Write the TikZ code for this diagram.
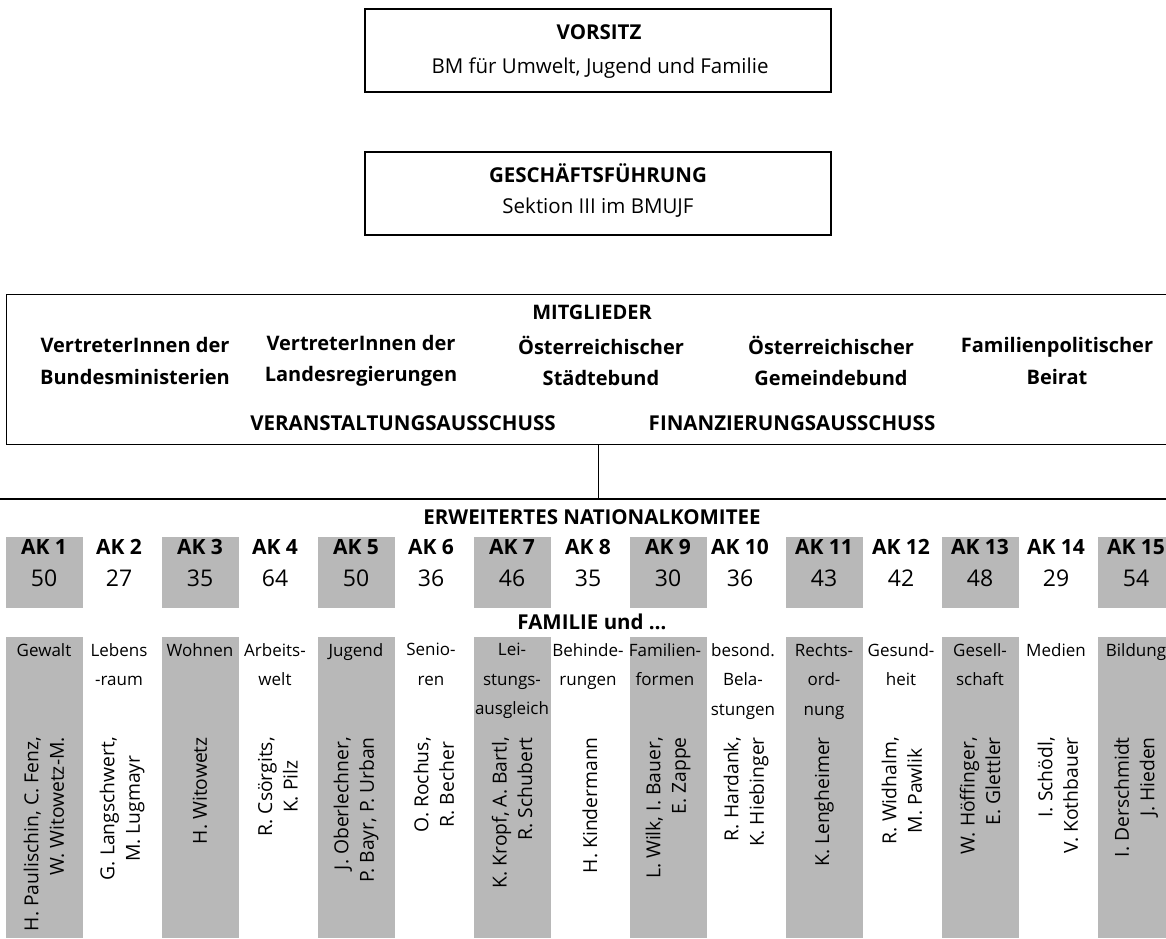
\documentclass[tikz,border=0pt]{standalone}
\usepackage{fontspec}
\setmainfont{Open Sans}
\newcommand\myfs[2]{\fontsize{#1}{#2}\selectfont}
\begin{document}
\begin{tikzpicture}[x=1pt,y=-1pt,
  frame/.style={draw, line width=1.3pt, inner sep=0pt},
  shadebox/.style={fill=black!28, draw=none, inner sep=0pt},
  txt/.style={inner sep=0pt, font=\myfs{20.5}{24}},
  btxt/.style={inner sep=0pt, font=\myfs{20}{31.5}\bfseries, align=center},
  aktxt/.style={inner sep=0pt, font=\myfs{21}{24}\bfseries},
  numtxt/.style={inner sep=0pt, font=\myfs{23}{24}},
  toptxt/.style={inner sep=0pt, font=\myfs{17}{29.5}, align=center, anchor=north},
  nametxt/.style={inner sep=0pt, font=\myfs{19.3}{25.5}, rotate=90, anchor=east}]
\useasboundingbox (0,0) rectangle (1166,938);
% top boxes
\node[frame, minimum width=466pt, minimum height=83pt] (vorsitzbox) at (598,50.5) {};
\node[txt, font=\myfs{20.5}{24}\bfseries] (vorsitz) at (599,32) {VORSITZ};
\node[txt] (bm) at (600,68) {BM für Umwelt, Jugend und Familie};
\node[frame, minimum width=466pt, minimum height=83pt] (gfbox) at (598,193.5) {};
\node[txt, font=\myfs{20.5}{24}\bfseries] (gf) at (598,173) {GESCHÄFTSFÜHRUNG};
\node[txt] (sek) at (598,208) {Sektion III im BMUJF};
% members box
\node[frame, minimum width=1166pt, minimum height=150pt, anchor=north west] (mitgbox) at (6,294) {};
\node[btxt] (mitg) at (592,312) {MITGLIEDER};
\node[btxt] (m1) at (135,361) {VertreterInnen der\\Bundesministerien};
\node[btxt] (m2) at (361,361) {VertreterInnen der\\Landesregierungen};
\node[btxt] (m3) at (601,361) {Österreichischer\\Städtebund};
\node[btxt] (m4) at (831,361) {Österreichischer\\Gemeindebund};
\node[btxt] (m5) at (1057,361) {Familienpolitischer\\Beirat};
\node[btxt, font=\myfs{20.5}{24}\bfseries] (va) at (403,423) {VERANSTALTUNGSAUSSCHUSS};
\node[btxt, font=\myfs{20.5}{24}\bfseries] (fa) at (792,423) {FINANZIERUNGSAUSSCHUSS};
% connector to erweitertes nationalkomitee
\coordinate (ekl) at (0,499);
\coordinate (ekr) at (1166,499);
\coordinate (ekc) at (598,499);
\draw[line width=1.5pt] (ekl) -- (ekr);
\draw[line width=1pt] (mitgbox.south -| ekc) -- (ekc);
\node[btxt, font=\myfs{20.5}{24}\bfseries] (ek) at (592,517) {ERWEITERTES NATIONALKOMITEE};
\node[btxt, font=\myfs{20.5}{24}\bfseries] (fam) at (592,622) {FAMILIE und \dots};
% columns
\foreach \i/\dx/\tx/\num/\topic/\nm/\al in {
  1/0/0/50/{Gewalt}/{H. Paulischin, C. Fenz,\\W. Witowetz-M.}/right,
  2/-3/-3/27/{Lebens\\-raum}/{G. Langschwert,\\M. Lugmayr}/center,
  3/0/0/35/{Wohnen}/{H. Witowetz}/right,
  4/-3/-3/64/{Arbeits-\\welt}/{R. Csörgits,\\K. Pilz}/center,
  5/0/0/50/{Jugend}/{J. Oberlechner,\\P. Bayr, P. Urban}/right,
  6/-3/-3/36/{Senio-\\ren}/{O. Rochus,\\R. Becher}/center,
  7/0/0/46/{Lei-\\stungs-\\ausgleich}/{K. Kropf, A. Bartl,\\R. Schubert}/right,
  8/-2/-2/35/{Behinde-\\rungen}/{H. Kindermann}/right,
  9/0/-3/30/{Familien-\\formen}/{L. Wilk, I. Bauer,\\E. Zappe}/right,
  10/-6/-3/36/{besond.\\Bela-\\stungen}/{R. Hardank,\\K. Hiebinger}/right,
  11/0/0/43/{Rechts-\\ord-\\nung}/{K. Lengheimer}/right,
  12/-1/-1/42/{Gesund-\\heit}/{R. Widhalm,\\M. Pawlik}/center,
  13/0/0/48/{Gesell-\\schaft}/{W. Höffinger,\\E. Glettler}/right,
  14/-2/-2/29/{Medien}/{I. Schödl,\\V. Kothbauer}/right,
  15/0/0/54/{Bildung}/{I. Derschmidt\\J. Hieden}/right}
{
  \pgfmathsetmacro\cx{44+(\i-1)*78+\dx}
  \pgfmathsetmacro\tcx{44+(\i-1)*78+\tx}
  \pgfmathsetmacro\sx{44+(\i-1)*78}
  \ifodd\i
    \node[shadebox, minimum width=77pt, minimum height=71pt] (akbox\i) at (\sx,572.5) {};
    \node[shadebox, minimum width=77pt, minimum height=301pt, anchor=north] (colbox\i) at (\sx,637) {};
  \fi
  \node[aktxt] (ak\i) at (\cx,547) {AK \i};
  \node[numtxt] (num\i) at (\cx,578) {\num};
  \node[toptxt] (top\i) at (\tcx,643) {\topic};
  \node[nametxt, align=\al] (name\i) at (\sx,737) {\nm};
}
\end{tikzpicture}
\end{document}
